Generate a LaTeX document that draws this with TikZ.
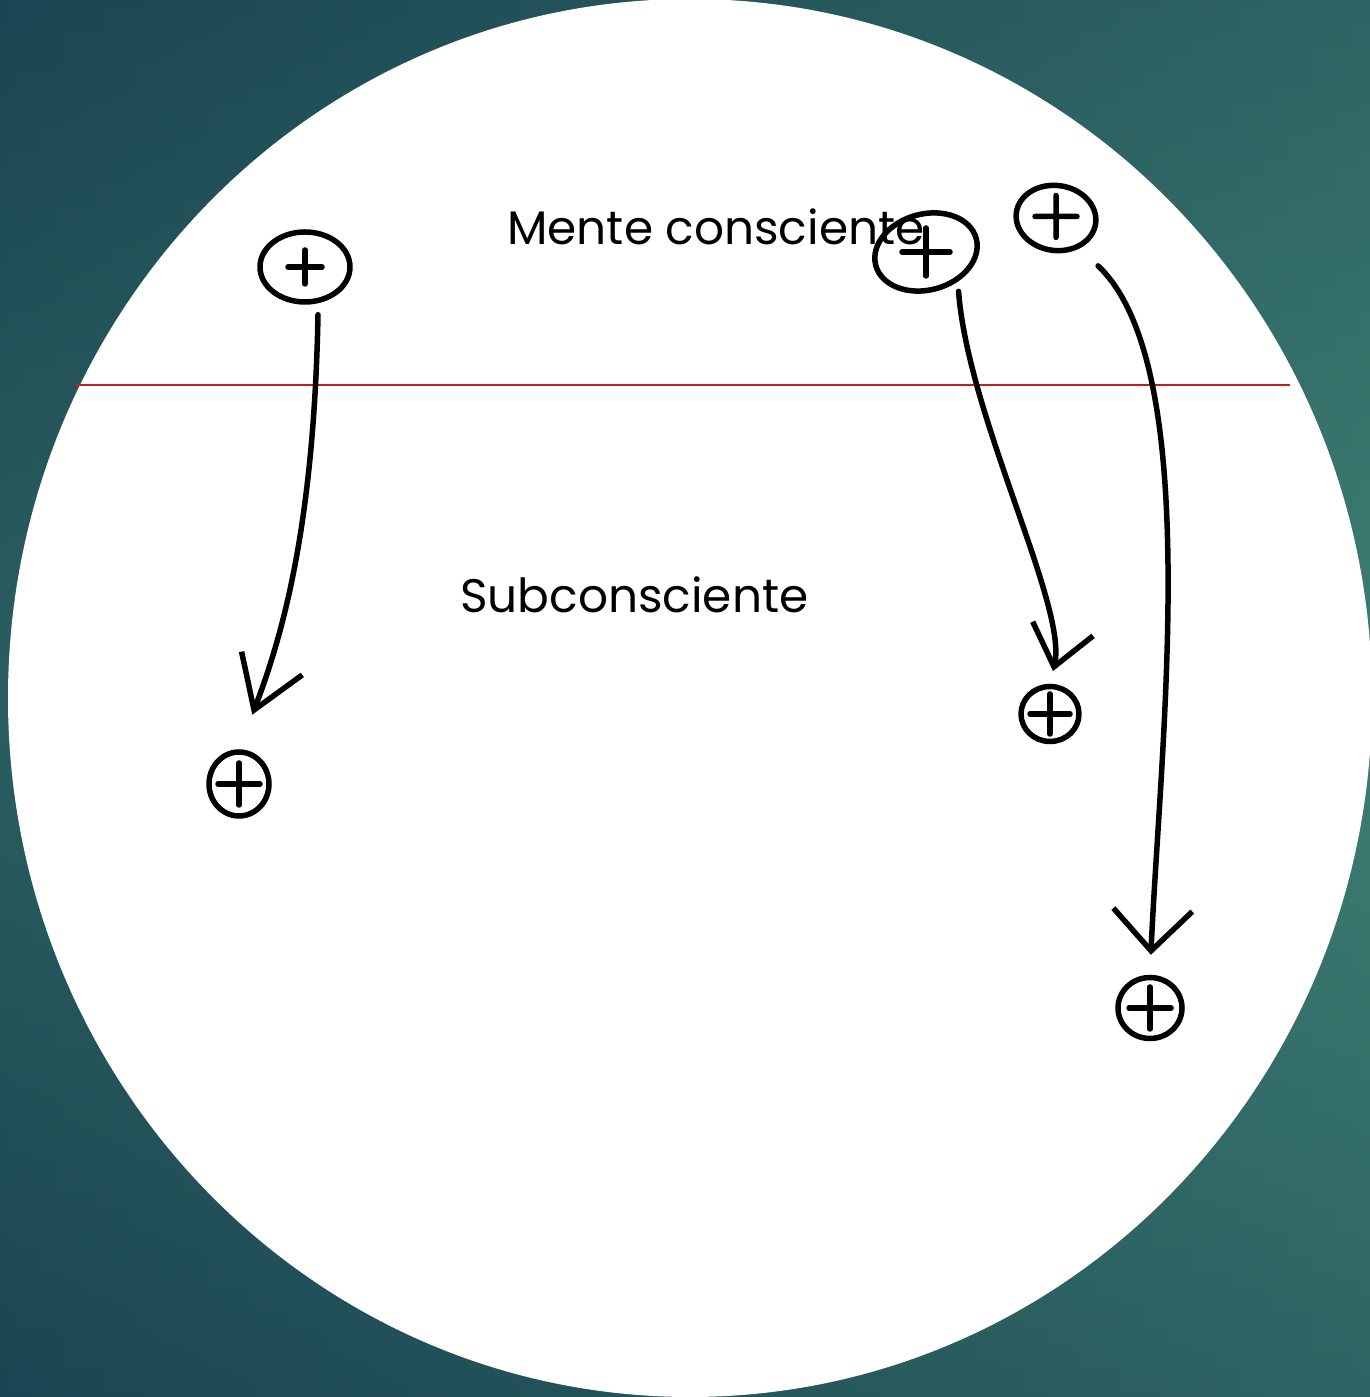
\documentclass[tikz,border=0pt]{standalone}
\usepackage{fontspec}
\setmainfont{Poppins}
\usepackage{tikz}
\usetikzlibrary{arrows.meta, shapes.geometric}

\definecolor{fondooscuro}{HTML}{1B4552}
\definecolor{fondoclaro}{HTML}{3E7E72}
\definecolor{rojolinea}{HTML}{C0201E}

\begin{document}
\begin{tikzpicture} [x=1pt, y=1pt,
	trazo/.style={line width=5.5pt, line cap=round, line join=round},
	signo/.style 2 args={ellipse, draw, trazo, inner sep=0pt,
		path picture={
			\draw[trazo] ([shift={(180+#2:#1)}]path picture bounding box.center) -- ([shift={(#2:#1)}]path picture bounding box.center)
				([shift={(270+#2:#1)}]path picture bounding box.center) -- ([shift={(90+#2:#1)}]path picture bounding box.center);
		}},
	flecha/.style={trazo, -{Straight Barb[length=#1]}},
	rotulo/.style={font=\fontsize{47}{50}\selectfont, anchor=base west, inner sep=0pt}]
	
	\useasboundingbox (0,0) rectangle (1370,1397);
	% fondo
	\shade[left color=fondooscuro, right color=fondoclaro] (-2,-2) rectangle (1372,1399);
	\shade[top color=fondooscuro, bottom color=fondooscuro, middle color=fondoclaro, opacity=0.45] (-2,-2) rectangle (1372,1399);
	\fill[white] (690,699) ellipse [x radius=682, y radius=699];
	
	% linea entre consciente y subconsciente
	\draw[rojolinea, line width=1.4pt] (75,1012) -- (1290,1012);
	
	\node[rotulo] (mente) at (507,1152) {Mente consciente};
	\node[rotulo] (sub) at (460,784) {Subconsciente};
	
	\node[signo={17pt}{0}, minimum width=90pt, minimum height=70pt] (a1) at (305,1130) {};
	\node[signo={21pt}{0}, minimum width=60pt, minimum height=64pt] (a2) at (239,613) {};
	\node[signo={24pt}{-15}, minimum width=104pt, minimum height=76pt, rotate=15] (b1) at (926,1145) {};
	\node[signo={20pt}{0}, minimum width=58pt, minimum height=55pt] (b2) at (1050,683) {};
	\node[signo={21pt}{8}, minimum width=80pt, minimum height=65pt, rotate=-8] (c1) at (1056,1179) {};
	\node[signo={21pt}{0}, minimum width=64pt, minimum height=61pt] (c2) at (1150,389) {};
	
	\draw[flecha={50pt 0 0, width=65pt 0 0}, shorten >=37pt] ([xshift=13pt,yshift=-10pt]a1.south)
		.. controls (314,870) and (282,760) .. (a2.north);
	\draw[flecha={39pt 0 0, width=62pt 0 0}, shorten >=13pt] ([xshift=22pt]b1.south)
		.. controls (968,980) and (1068,790) .. (b2.north);
	\draw[flecha={41pt 0 0, width=79pt 0 0}, shorten >=20pt] ([xshift=47pt,yshift=-13pt]c1.south)
		.. controls (1205,1030) and (1160,650) .. (c2.north);
	
\end{tikzpicture}
\end{document}
